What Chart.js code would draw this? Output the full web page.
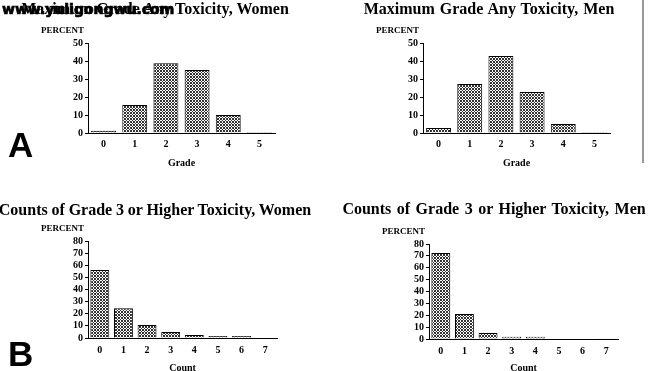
<!DOCTYPE html>
<html>
<head>
<meta charset="utf-8">
<script src="https://cdn.jsdelivr.net/npm/chart.js@4.4.0/dist/chart.umd.min.js"></script>
<style>
  body { margin: 0; width: 650px; height: 371px; background: #fff; position: relative; overflow: hidden; }
  canvas { position: absolute; }
  .big { position: absolute; font-family: "Liberation Sans", Arial, sans-serif; font-weight: bold; color: #000; line-height: 1; }
  .ttl { position: absolute; width: 400px; text-align: center; white-space: nowrap; line-height: 1;
         font-family: "Liberation Serif", "Times New Roman", serif; font-weight: bold; font-size: 16px; color: #000; }
</style>
</head>
<body>
<canvas id="c1" width="310" height="175" style="left:0;top:0"></canvas>
<canvas id="c2" width="318" height="175" style="left:330px;top:0"></canvas>
<canvas id="c3" width="310" height="186" style="left:0;top:190px"></canvas>
<canvas id="c4" width="308" height="186" style="left:340px;top:190px"></canvas>
<div class="ttl" style="left:-45px;top:1px;word-spacing:0px">Maximum Grade Any Toxicity, Women</div>
<div class="ttl" style="left:289px;top:1px;word-spacing:1px">Maximum Grade Any Toxicity, Men</div>
<div class="ttl" style="left:-45px;top:202px;word-spacing:-0.2px">Counts of Grade 3 or Higher Toxicity, Women</div>
<div class="ttl" style="left:294px;top:201px;word-spacing:1.5px">Counts of Grade 3 or Higher Toxicity, Men</div>
<div class="big" style="left:8px;top:127px;font-size:35px">A</div>
<div class="big" style="left:8px;top:336px;font-size:35px">B</div>
<div class="big" style="left:2px;top:2px;font-size:14px;font-family:'DejaVu Sans',sans-serif;-webkit-text-stroke:0.7px #000">www.yuligongwu.com</div>
<div style="position:absolute;left:642px;top:0;width:2px;height:163px;background:#999"></div>
<script>
const gradeLabels = ['0', '1', '2', '3', '4', '5'];
const countLabels = ['0', '1', '2', '3', '4', '5', '6', '7'];
const womenGradePct = [1.2, 15.5, 38.8, 35.0, 10.0, 0.5];
const menGradePct = [2.8, 27.2, 42.8, 22.8, 5.0, 0.5];
const womenCountPct = [56.0, 24.5, 10.7, 5.0, 2.5, 1.6, 1.6, 0];
const menCountPct = [72.5, 21.0, 5.0, 2.0, 2.0, 0, 0, 0.7];
const gradeTicks = [0, 10, 20, 30, 40, 50];
const countTicks = [0, 10, 20, 30, 40, 50, 60, 70, 80];

const serif = '"Liberation Serif", "Times New Roman", serif';

// cross-hatch fill like the old SAS plots
function hatch() {
  const c = document.createElement('canvas');
  c.width = 3; c.height = 3;
  const g = c.getContext('2d');
  g.fillStyle = '#fff';
  g.fillRect(0, 0, 3, 3);
  g.fillStyle = '#333';
  for (let i = 0; i < 3; i++) {
    g.fillRect(i, i, 1, 1);
    g.fillRect((3 - i) % 3, i, 1, 1);
  }
  return g.createPattern(c, 'repeat');
}

// "PERCENT" label sitting above the y axis
const percentLabel = {
  id: 'percentLabel',
  afterDraw(chart) {
    const { ctx, chartArea } = chart;
    ctx.save();
    ctx.font = 'bold 9px ' + serif;
    ctx.fillStyle = '#000';
    ctx.textAlign = 'right';
    ctx.textBaseline = 'middle';
    ctx.fillText('PERCENT', chartArea.left - 4, chartArea.top - 12);
    ctx.restore();
  }
};

function makeChart(id, labels, values, ticks, cfg) {
  new Chart(document.getElementById(id), {
    type: 'bar',
    data: {
      labels,
      datasets: [{
        data: values,
        backgroundColor: hatch(),
        borderColor: '#000',
        borderWidth: 1,
        barPercentage: 0.8,
        categoryPercentage: 1
      }]
    },
    options: {
      responsive: false,
      animation: false,
      layout: { padding: { left: 0, right: cfg.padRight, top: cfg.padTop, bottom: 0 } },
      plugins: {
        legend: { display: false },
        tooltip: { enabled: false },
        title: { display: false }
      },
      scales: {
        x: {
          grid: { display: false, drawTicks: false },
          border: { color: '#000' },
          ticks: { color: '#000', font: { family: serif, size: 10, weight: 'bold' }, padding: cfg.xPad },
          title: {
            display: true, text: cfg.xTitle, color: '#000',
            font: { family: serif, size: 10, weight: 'bold' },
            padding: { top: 0, bottom: cfg.xTitlePad }
          },
          afterFit: s => { s.height = cfg.xHeight; }
        },
        y: {
          min: ticks[0],
          max: ticks[ticks.length - 1],
          grid: { display: true, drawOnChartArea: false, tickLength: 3, color: '#000' },
          border: { color: '#000' },
          ticks: {
            stepSize: ticks[1] - ticks[0], autoSkip: false, color: '#000',
            font: { family: serif, size: cfg.ySize, weight: 'bold' }, padding: 2
          },
          afterFit: s => { s.width = cfg.yWidth; }
        }
      }
    },
    plugins: [percentLabel]
  });
}

makeChart('c1', gradeLabels, womenGradePct, gradeTicks, {
  xTitle: 'Grade', yWidth: 88, padRight: 35, padTop: 43, xHeight: 42, xPad: 5, xTitlePad: 6, ySize: 10
});
makeChart('c2', gradeLabels, menGradePct, gradeTicks, {
  xTitle: 'Grade', yWidth: 93, padRight: 38, padTop: 43, xHeight: 42, xPad: 5, xTitlePad: 6, ySize: 10
});
makeChart('c3', countLabels, womenCountPct, countTicks, {
  xTitle: 'Count', yWidth: 88, padRight: 33, padTop: 51, xHeight: 38, xPad: 6, xTitlePad: 2, ySize: 10
});
makeChart('c4', countLabels, menCountPct, countTicks, {
  xTitle: 'Count', yWidth: 89, padRight: 30, padTop: 54, xHeight: 37, xPad: 6, xTitlePad: 2, ySize: 10
});
</script>
</body>
</html>
